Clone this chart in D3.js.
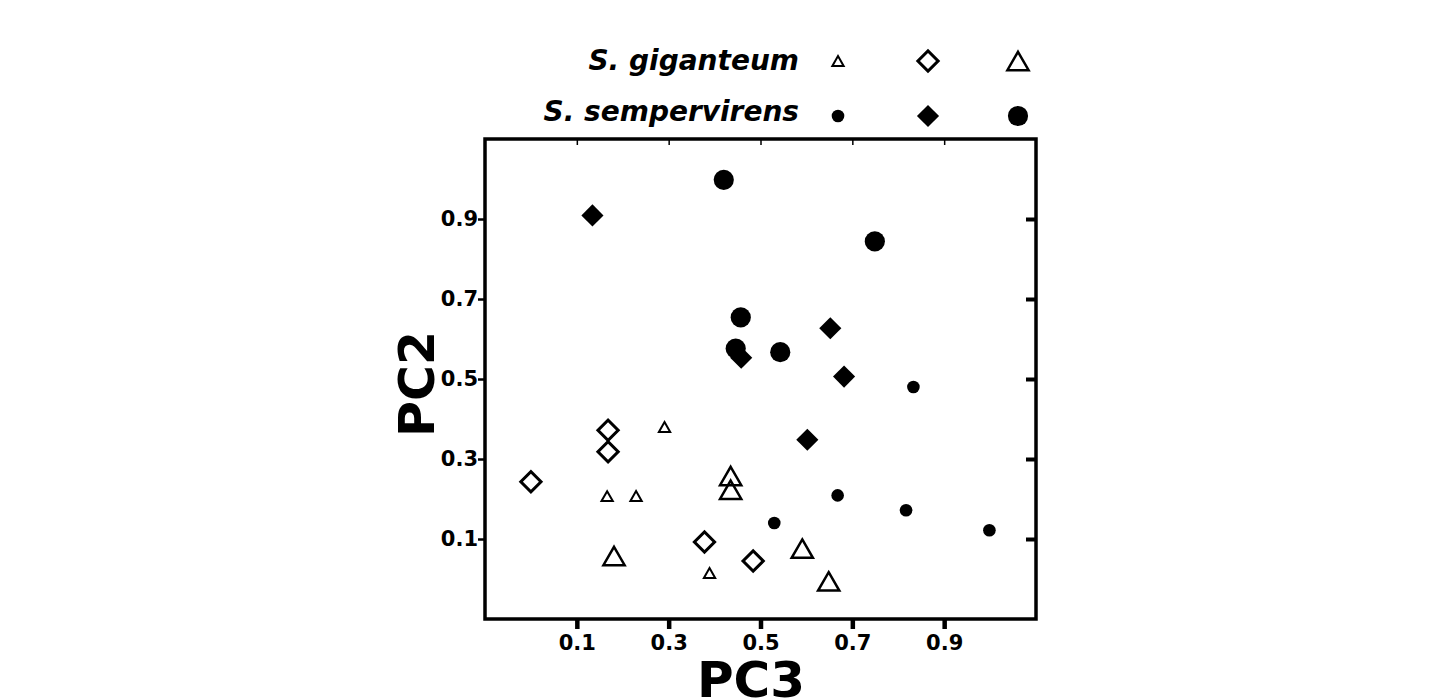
<!DOCTYPE html>
<html>
<head>
<meta charset="utf-8">
<script src="https://cdn.jsdelivr.net/npm/d3@7"></script>
<style>
  html, body { margin: 0; padding: 0; background: #fff; }
  svg { display: block; font-family: "DejaVu Sans", sans-serif; }
</style>
</head>
<body>
<script>
// species + marker kinds (legend rows / columns)
const species = ["S. giganteum", "S. sempervirens"]
const markerKinds = ["small", "diamond", "large"]
const tickVals = [0.1, 0.3, 0.5, 0.7, 0.9]

// [PC3, PC2]
const gigSmall = [[0.291, 0.38], [0.166, 0.207], [0.229, 0.2075], [0.389, 0.015]]
const gigDiamond = [[0.0, 0.243], [0.168, 0.372], [0.168, 0.318], [0.378, 0.0925], [0.484, 0.045]]
const gigLarge = [[0.435, 0.2575], [0.435, 0.223], [0.181, 0.0575], [0.591, 0.076], [0.6485, -0.006]]
const semSmall = [[0.833, 0.48], [0.668, 0.209], [0.530, 0.14], [0.817, 0.172], [0.9985, 0.122]]
const semDiamond = [[0.134, 0.909], [0.652, 0.627], [0.682, 0.506], [0.458, 0.553], [0.602, 0.348]]
const semLarge = [[0.42, 0.998], [0.749, 0.844], [0.457, 0.654], [0.446, 0.576], [0.543, 0.567]]

const W = 1444, H = 699
const pLeft = 485, pRight = 1036, pTop = 139, pBottom = 619
const FONT = "DejaVu Sans"

const svg = d3.select("body").append("svg")
    .attr("width", W)
    .attr("height", H)

const x = d3.scaleLinear().domain([-0.1, 1.1]).range([pLeft, pRight])
const y = d3.scaleLinear().domain([-0.1, 1.1]).range([pBottom, pTop])

// triangle centred on its bounding box (d3's own one is centred on the centroid)
const boxTriangle = {
    draw(context, size) {
        const s = Math.sqrt(size * 4 / Math.sqrt(3))
        const h = s * Math.sqrt(3) / 2
        context.moveTo(0, -h / 2)
        context.lineTo(s / 2, h / 2)
        context.lineTo(-s / 2, h / 2)
        context.closePath()
    }
}

const styles = {
    "S. giganteum": {
        small: { type: boxTriangle, size: 55, fill: "none", sw: 2 },
        diamond: { type: d3.symbolSquare, size: 205, fill: "none", sw: 3, rot: 45 },
        large: { type: boxTriangle, size: 195, fill: "none", sw: 2.5 }
    },
    "S. sempervirens": {
        small: { type: d3.symbolCircle, size: 125, fill: "#000", sw: 0 },
        diamond: { type: d3.symbolSquare, size: 245, fill: "#000", sw: 0, rot: 45 },
        large: { type: d3.symbolCircle, size: 320, fill: "#000", sw: 0 }
    }
}

const series = [
    { sp: "S. giganteum", kind: "small", pts: gigSmall },
    { sp: "S. giganteum", kind: "diamond", pts: gigDiamond },
    { sp: "S. giganteum", kind: "large", pts: gigLarge },
    { sp: "S. sempervirens", kind: "small", pts: semSmall },
    { sp: "S. sempervirens", kind: "diamond", pts: semDiamond },
    { sp: "S. sempervirens", kind: "large", pts: semLarge }
]

const drawMark = (sel, st) => {
    sel.attr("d", d3.symbol().type(st.type).size(st.size))
       .attr("fill", st.fill)
       .attr("stroke", "#000")
       .attr("stroke-width", st.sw)
       .attr("stroke-linejoin", "miter")
}

// axes (ticks only, frame drawn separately)
const xb = svg.append("g")
    .attr("transform", `translate(0,${pBottom})`)
    .call(d3.axisBottom(x).tickValues(tickVals).tickSize(10).tickFormat(d3.format(".1f")))
    .attr("font-family", FONT)
xb.select(".domain").remove()
xb.selectAll("line").attr("stroke-width", 4.5)
xb.selectAll("text")
  .attr("y", 31).attr("dy", null)
  .style("font-size", "21px").style("font-weight", "bold").attr("fill", "#000")

const yl = svg.append("g")
    .attr("transform", `translate(${pLeft},0)`)
    .call(d3.axisLeft(y).tickValues(tickVals).tickSize(7).tickFormat(d3.format(".1f")))
    .attr("font-family", FONT)
yl.select(".domain").remove()
yl.selectAll("line").attr("stroke-width", 2.5)
yl.selectAll("text")
  .attr("x", -7)
  .style("font-size", "21px").style("font-weight", "bold").attr("fill", "#000")

const yr = svg.append("g")
    .attr("transform", `translate(${pRight},0)`)
    .call(d3.axisLeft(y).tickValues(tickVals).tickSize(10).tickFormat(""))
yr.select(".domain").remove()
yr.selectAll("line").attr("stroke-width", 4)

const xt = svg.append("g")
    .attr("transform", `translate(0,${pTop})`)
    .call(d3.axisBottom(x).tickValues(tickVals).tickSize(6).tickFormat(""))
xt.select(".domain").remove()
xt.selectAll("line").attr("stroke-width", 1.5)

svg.append("rect")
   .attr("x", pLeft).attr("y", pTop)
   .attr("width", pRight - pLeft).attr("height", pBottom - pTop)
   .attr("fill", "none")
   .attr("stroke", "#000")
   .attr("stroke-width", 3.5)

// points
series.forEach(s => {
    const st = styles[s.sp][s.kind]
    svg.append("g").selectAll("path")
       .data(s.pts)
       .enter()
       .append("path")
       .call(drawMark, st)
       .attr("transform", d => `translate(${x(d[0])},${y(d[1])})` + (st.rot ? ` rotate(${st.rot})` : ""))
})

// axis titles
svg.append("text")
   .attr("x", 751)
   .attr("y", 697)
   .attr("text-anchor", "middle")
   .style("font-size", "50px").style("font-weight", "bold")
   .text("PC3")

svg.append("text")
   .attr("transform", `translate(434,${y(0.5) + 5}) rotate(-90)`)
   .attr("text-anchor", "middle")
   .style("font-size", "49px").style("font-weight", "bold")
   .text("PC2")

// legend above plot
const legendCol = d3.scalePoint().domain(markerKinds).range([838, 1018])
const legendRow = d3.scalePoint().domain(species).range([61, 116])
const legendText = d3.scalePoint().domain(species).range([70, 121])

const legend = svg.append("g").attr("id", "legend")
species.forEach(sp => {
    legend.append("text")
          .attr("x", 799)
          .attr("y", legendText(sp))
          .attr("text-anchor", "end")
          .style("font-size", "28px").style("font-weight", "bold").style("font-style", "italic")
          .text(sp)
    markerKinds.forEach(k => {
        const st = styles[sp][k]
        legend.append("path")
              .call(drawMark, st)
              .attr("transform", `translate(${legendCol(k)},${legendRow(sp)})` + (st.rot ? ` rotate(${st.rot})` : ""))
    })
})
</script>
</body>
</html>
